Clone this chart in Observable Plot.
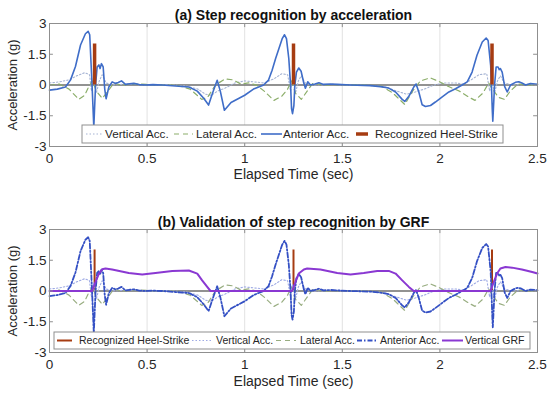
<!DOCTYPE html>
<html><head><meta charset="utf-8">
<script src="https://cdn.jsdelivr.net/npm/d3@7"></script>
<script src="https://cdn.jsdelivr.net/npm/@observablehq/plot@0.6"></script>
<style>
body{margin:0;background:#fff;}
#chart{width:550px;}
svg{display:block;}
</style>
</head><body><div id="chart"></div>
<script>
// ---------- DATA ----------
const xTicks = [0, 0.5, 1, 1.5, 2, 2.5];
const xTickLabels = ["0", "0.5", "1", "1.5", "2", "2.5"];
const yTicks = [-3, -1.5, 0, 1.5, 3];
const yTickLabels = ["-3", "-1.5", "0", "1.5", "3"];

const anteriorTime = [0,0.04,0.082,0.108,0.133,0.159,0.184,0.198,0.206,0.218,0.227,0.236,0.244,0.253,0.259,0.266,0.275,0.283,0.29,0.304,0.321,0.338,0.352,0.369,0.389,0.41,0.432,0.46,0.492,0.53,0.577,0.645,0.714,0.757,0.79,0.815,0.835,0.859,0.875,0.896,0.93,1.0,1.045,1.097,1.122,1.14,1.158,1.175,1.192,1.204,1.214,1.226,1.235,1.24,1.245,1.252,1.257,1.265,1.277,1.289,1.303,1.311,1.323,1.337,1.36,1.38,1.404,1.44,1.474,1.542,1.644,1.696,1.738,1.773,1.807,1.82,1.841,1.866,1.878,1.892,1.909,1.926,1.952,1.977,2.012,2.046,2.08,2.114,2.14,2.165,2.19,2.217,2.237,2.247,2.26,2.264,2.268,2.271,2.276,2.28,2.288,2.298,2.304,2.31,2.319,2.332,2.345,2.362,2.387,2.404,2.42,2.439,2.464,2.5];
const anteriorAcc = [-0.25,-0.2,-0.1,0.25,0.9,1.95,2.5,2.62,2.45,0,-2.05,0,0.88,0.98,0.8,1.04,0.88,-0.2,-0.67,-0.1,0.15,0.08,0.12,0.2,0.03,0.06,0.08,0.02,0,0.02,0,-0.05,-0.1,-0.3,-0.65,-0.98,-0.4,0.23,-0.3,-1.23,-0.85,-0.5,-0.2,0,0.24,0.71,1.28,1.77,2.26,2.45,2.26,1.28,0,-1.15,-1.4,-1.0,0,0.63,0.83,0.67,0.08,-0.16,0.16,0,0.05,0.11,0.03,0.05,0.03,0,-0.03,-0.08,-0.15,-0.34,-0.7,-0.8,-0.55,-0.1,0.05,-0.34,-0.96,-1.05,-1.0,-0.83,-0.58,-0.34,-0.18,0,0.15,0.63,1.45,2.1,2.29,2.17,0.96,0,-1.15,-1.77,-0.8,0,0.88,0.88,0.75,0.8,0.63,-0.08,-0.34,0,0.13,0.16,0.1,0,0.07,0.03];

const verticalTime = [0,0.05,0.1,0.14,0.18,0.205,0.215,0.225,0.24,0.255,0.27,0.29,0.32,0.4,0.5,0.6,0.7,0.76,0.8,0.83,0.86,0.9,0.95,1.0,1.05,1.1,1.15,1.19,1.22,1.235,1.245,1.26,1.275,1.29,1.31,1.35,1.45,1.55,1.65,1.72,1.78,1.83,1.87,1.92,1.97,2.02,2.08,2.12,2.16,2.2,2.24,2.255,2.265,2.28,2.295,2.31,2.33,2.37,2.45,2.5];
const verticalAcc = [0.1,0.15,0.25,0.45,0.6,0.5,-0.3,0.4,-0.4,0.2,0.5,0.1,0,0.05,0,0.02,-0.05,-0.2,-0.45,-0.5,-0.3,-0.15,0.1,0.2,0.15,0.1,0.3,0.55,0.5,-0.3,0.3,-0.4,0.2,0.45,0.1,0,0.03,0,-0.03,-0.1,-0.3,-0.45,-0.35,-0.2,0,0.1,0.1,0.05,0.25,0.5,0.55,-0.3,0.3,-0.4,0.2,0.45,0.1,0,0.03,0];

const lateralTime = [0,0.05,0.1,0.15,0.18,0.2,0.22,0.24,0.27,0.3,0.33,0.36,0.45,0.55,0.65,0.72,0.78,0.81,0.85,0.9,0.94,0.98,1.02,1.06,1.1,1.15,1.19,1.22,1.24,1.26,1.29,1.32,1.35,1.4,1.5,1.6,1.7,1.76,1.82,1.86,1.9,1.95,2.0,2.05,2.1,2.15,2.18,2.22,2.25,2.27,2.3,2.33,2.36,2.4,2.45,2.5];
const lateralAcc = [0,0.05,-0.2,-0.7,-0.5,-0.1,0.2,-0.3,-0.65,-0.3,0.1,0,0.05,0,0,-0.2,-0.7,-0.6,0,0.3,0.25,0.05,0.1,0,-0.3,-0.75,-0.55,-0.2,0.2,-0.4,-0.7,-0.3,0.1,0,0.02,0,-0.05,-0.4,-0.95,-0.3,0.2,0.35,0.15,-0.1,-0.3,-0.6,-0.75,-0.4,0.1,-0.2,-0.6,-0.7,-0.3,0.05,0,0];

const grfTime = [0,0.218,0.236,0.253,0.27,0.287,0.321,0.406,0.475,0.543,0.629,0.714,0.757,0.782,0.808,0.825,1.243,1.26,1.277,1.303,1.32,1.388,1.474,1.542,1.61,1.679,1.738,1.773,1.807,1.841,1.866,2.259,2.276,2.293,2.31,2.336,2.37,2.42,2.473,2.5];
const grfValue = [0,0,0.44,0.85,1.06,1.1,1.05,0.88,0.8,0.88,0.98,1.0,0.85,0.52,0.2,0,0,0.44,0.85,1.05,1.1,1.05,0.88,0.8,0.88,0.98,0.98,0.85,0.52,0.2,0,0,0.44,0.85,1.1,1.17,1.14,1.05,0.93,0.85];

const heelStrikeTimes = [0.231, 1.25, 2.267];
const heelStrikeHeight = 2;

// ---------- BUILD ----------
const zip = (ts, vs) => ts.map((t, i) => ({t, v: vs[i]}));
const anterior = zip(anteriorTime, anteriorAcc);
const vertical = zip(verticalTime, verticalAcc);
const lateral = zip(lateralTime, lateralAcc);
const grf = zip(grfTime, grfValue);
const heel = heelStrikeTimes.map(t => ({t, h: heelStrikeHeight}));

const C = {
  vert: "#a6b4d4", lat: "#8cae6a", ant: "#3f6dc8", antB: "#3450c4",
  heel: "#a63c12", grf: "#8a38d2", zero: "#6e6e6e", frame: "#8f8f8f", text: "#262626"
};
const FONT = "'Liberation Sans', Arial, Helvetica, sans-serif";

function basePanel({height, marginTop, title, titleDy, xlabelDy, marks}) {
  const tickLenX = 0.2, tickLenY = 0.02;
  return Plot.plot({
    width: 550, height, marginTop, marginBottom: 44, marginLeft: 49, marginRight: 13,
    x: {domain: [0, 2.5]}, y: {domain: [-3, 3]},
    style: {fontFamily: FONT, fontSize: "13px", color: C.text, background: "white"},
    marks: [
      Plot.ruleX(xTicks.slice(1, -1), {stroke: "#e2e2e2", strokeWidth: 1}),
      Plot.ruleY([0], {stroke: C.zero, strokeWidth: 1.3}),
      ...marks,
      Plot.frame({stroke: C.frame, strokeWidth: 1}),
      Plot.ruleX(xTicks, {y1: -3, y2: -3 + tickLenX, stroke: C.frame}),
      Plot.ruleX(xTicks, {y1: 3 - tickLenX, y2: 3, stroke: C.frame}),
      Plot.ruleY(yTicks, {x1: 0, x2: tickLenY, stroke: C.frame}),
      Plot.ruleY(yTicks, {x1: 2.5 - tickLenY, x2: 2.5, stroke: C.frame}),
      Plot.axisX(xTicks, {tickFormat: d => xTickLabels[xTicks.indexOf(d)], tickSize: 0, tickPadding: 7, label: null, fontSize: 13.5}),
      Plot.axisY(yTicks, {tickFormat: d => yTickLabels[yTicks.indexOf(d)], tickSize: 0, tickPadding: 3, label: null, fontSize: 13.5}),
      Plot.text(["Acceleration (g)"], {frameAnchor: "left", textAnchor: "middle", rotate: -90, dx: -37, fontSize: 13, fill: C.text}),
      Plot.text(["Elapsed Time (sec)"], {frameAnchor: "bottom", dy: xlabelDy, fontSize: 14, fill: C.text}),
      Plot.text([title], {frameAnchor: "top", dy: titleDy, fontSize: 14, fontWeight: "bold", fill: "#111"})
    ]
  });
}

function addLegend(svg, {box, fontSize, baseline, items}) {
  const g = d3.select(svg).append("g");
  g.append("rect").attr("x", box[0]).attr("y", box[1]).attr("width", box[2] - box[0]).attr("height", box[3] - box[1])
    .attr("fill", "white").attr("stroke", "#8f8f8f").attr("stroke-width", 1);
  const cy = (box[1] + box[3]) / 2;
  for (const it of items) {
    g.append("line").attr("x1", it.x1).attr("x2", it.x2).attr("y1", cy).attr("y2", cy)
      .attr("stroke", it.stroke).attr("stroke-width", it.width || 1.5)
      .attr("stroke-dasharray", it.dash || null);
    g.append("text").attr("x", it.tx).attr("y", baseline).text(it.label)
      .attr("text-anchor", "start")
      .attr("font-family", FONT).attr("font-size", fontSize).attr("fill", C.text);
  }
}

const topPlot = basePanel({
  height: 190, marginTop: 23, title: "(a) Step recognition by acceleration", titleDy: -13, xlabelDy: 32,
  marks: [
    Plot.line(vertical, {x: "t", y: "v", stroke: C.vert, strokeWidth: 1.1, strokeDasharray: "1.5,2"}),
    Plot.line(lateral, {x: "t", y: "v", stroke: C.lat, strokeWidth: 1.2, strokeDasharray: "5,4"}),
    Plot.line(anterior, {x: "t", y: "v", stroke: C.ant, strokeWidth: 1.6}),
    Plot.ruleX(heel, {x: "t", y1: 0, y2: "h", stroke: C.heel, strokeWidth: 3.5})
  ]
});
addLegend(topPlot, {box: [82, 125, 503, 143], fontSize: 11.7, baseline: 138.3, items: [
  {x1: 86, x2: 102, stroke: C.vert, dash: "1.5,2", width: 1.1, label: "Vertical Acc.", tx: 105},
  {x1: 174, x2: 193, stroke: C.lat, dash: "5,4", width: 1.2, label: "Lateral Acc.", tx: 196},
  {x1: 261, x2: 282, stroke: C.ant, width: 1.6, label: "Anterior Acc.", tx: 283},
  {x1: 356, x2: 368, stroke: C.heel, width: 3.5, label: "Recognized Heel-Strike", tx: 375}
]});

const bottomPlot = basePanel({
  height: 206, marginTop: 39, title: "(b) Validation of step recognition by GRF", titleDy: -12, xlabelDy: 33,
  marks: [
    Plot.ruleX(heel, {x: "t", y1: 0, y2: "h", stroke: C.heel, strokeWidth: 2}),
    Plot.line(vertical, {x: "t", y: "v", stroke: "#9eaae4", strokeWidth: 1.1, strokeDasharray: "1.5,2"}),
    Plot.line(lateral, {x: "t", y: "v", stroke: "#98ad80", strokeWidth: 1.2, strokeDasharray: "5,4"}),
    Plot.line(anterior, {x: "t", y: "v", stroke: C.antB, strokeWidth: 1.8, strokeDasharray: "5,2,1.5,2"}),
    Plot.line(grf, {x: "t", y: "v", stroke: C.grf, strokeWidth: 2})
  ]
});
addLegend(bottomPlot, {box: [54, 142, 530, 159], fontSize: 10.5, baseline: 154.3, items: [
  {x1: 57, x2: 72, stroke: C.heel, width: 2, label: "Recognized Heel-Strike", tx: 79},
  {x1: 192, x2: 213, stroke: "#9eaae4", dash: "1.5,2", width: 1.1, label: "Vertical Acc.", tx: 216},
  {x1: 276, x2: 296, stroke: "#98ad80", dash: "5,4", width: 1.2, label: "Lateral Acc.", tx: 300},
  {x1: 357, x2: 378, stroke: C.antB, dash: "5,2,1.5,2", width: 1.8, label: "Anterior Acc.", tx: 380},
  {x1: 442, x2: 463, stroke: C.grf, width: 2, label: "Vertical GRF", tx: 465}
]});

const root = document.getElementById("chart");
root.append(topPlot, bottomPlot);
</script>
</body></html>
